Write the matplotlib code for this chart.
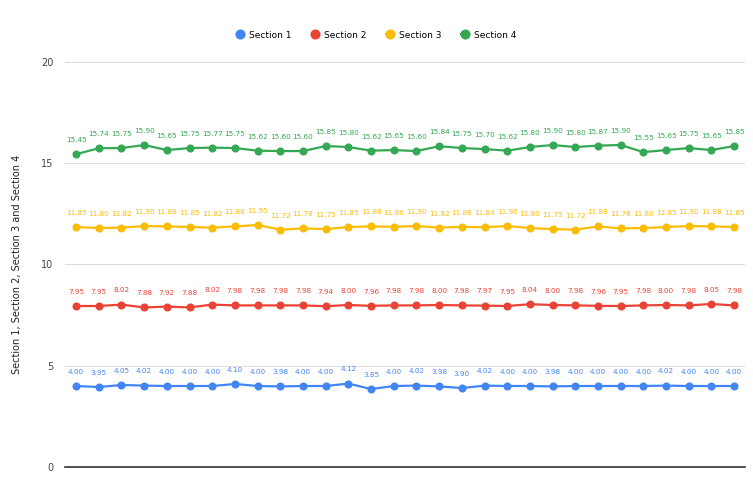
import matplotlib
matplotlib.use("Agg")
import matplotlib.pyplot as plt

# readings per section, one point per sample
samples = list(range(1, 31))
section1 = [4.00, 3.95, 4.05, 4.02, 4.00, 4.00, 4.00, 4.10, 4.00, 3.98,
            4.00, 4.00, 4.12, 3.85, 4.00, 4.02, 3.98, 3.90, 4.02, 4.00,
            4.00, 3.98, 4.00, 4.00, 4.00, 4.00, 4.02, 4.00, 4.00, 4.00]
section2 = [7.95, 7.95, 8.02, 7.88, 7.92, 7.88, 8.02, 7.98, 7.98, 7.98,
            7.98, 7.94, 8.00, 7.96, 7.98, 7.98, 8.00, 7.98, 7.97, 7.95,
            8.04, 8.00, 7.98, 7.96, 7.95, 7.98, 8.00, 7.98, 8.05, 7.98]
section3 = [11.85, 11.80, 11.82, 11.90, 11.88, 11.85, 11.82, 11.88, 11.95, 11.72,
            11.78, 11.75, 11.85, 11.88, 11.86, 11.90, 11.82, 11.86, 11.84, 11.90,
            11.80, 11.75, 11.72, 11.88, 11.78, 11.80, 11.85, 11.90, 11.88, 11.85]
section4 = [15.45, 15.74, 15.75, 15.90, 15.65, 15.75, 15.77, 15.75, 15.62, 15.60,
            15.60, 15.85, 15.80, 15.62, 15.65, 15.60, 15.84, 15.75, 15.70, 15.62,
            15.80, 15.90, 15.80, 15.87, 15.90, 15.55, 15.65, 15.75, 15.65, 15.85]

names = ["Section 1", "Section 2", "Section 3", "Section 4"]
colors = ["#4285F4", "#EA4335", "#FBBC04", "#34A853"]
yticks = [0, 5, 10, 15, 20]

fig = plt.figure(figsize=(7.53, 4.88), dpi=100)
ax = fig.add_axes([0.086, 0.043, 0.904, 0.830])

for name, color, vals in zip(names, colors, [section1, section2, section3, section4]):
    ax.plot(samples, vals, color=color, lw=1.6, marker="o", ms=4.8,
            label=name, zorder=3)
    # value labels above every point
    for x, y in zip(samples, vals):
        ax.annotate(f"{y:.2f}", (x, y), xytext=(0, 8), textcoords="offset points",
                    ha="center", va="bottom", fontsize=5.2, color=color)

ax.set_xlim(0.5, 30.5)
ax.set_ylim(0, 20)
ax.set_yticks(yticks)
ax.set_xticks([])
ax.tick_params(axis="y", length=0, labelsize=7, labelcolor="#444444", pad=8)
ax.grid(axis="y", color="#dddddd", lw=0.8)
ax.set_axisbelow(True)
for side in ["top", "right", "left"]:
    ax.spines[side].set_visible(False)
ax.spines["bottom"].set_color("#333333")
ax.spines["bottom"].set_linewidth(1.2)

ax.set_ylabel("Section 1, Section 2, Section 3 and Section 4",
              fontsize=7, color="#222222", labelpad=14)

fig.legend(*ax.get_legend_handles_labels(), loc="center", ncol=4,
           bbox_to_anchor=(0.5, 0.928), frameon=False, fontsize=6.5,
           handlelength=0.8, handletextpad=0.6, columnspacing=2.2,
           markerscale=1.3)

fig.savefig("out.png", dpi=100)
